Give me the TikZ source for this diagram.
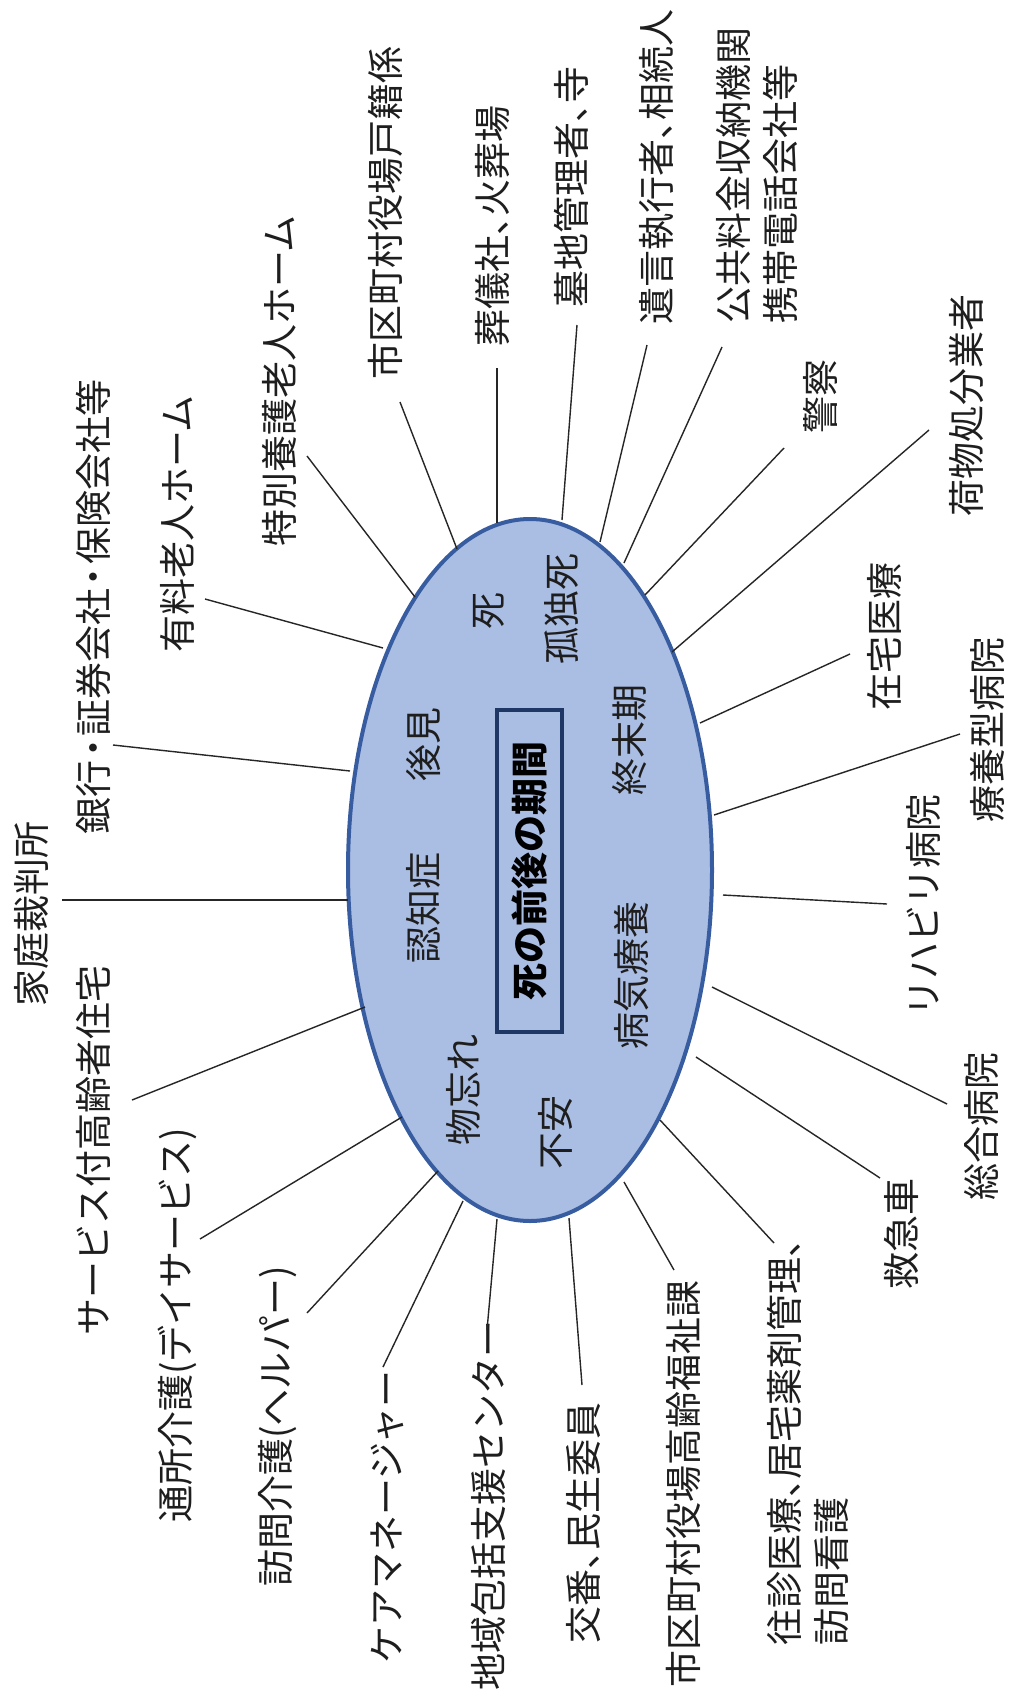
\documentclass[tikz,border=0pt]{standalone}
\usepackage{fontspec}
\newfontfamily\jp{Noto Sans CJK JP}
\usetikzlibrary{shapes.geometric}
\definecolor{efill}{RGB}{170,189,227}
\definecolor{edraw}{RGB}{55,93,160}
\definecolor{bdraw}{RGB}{30,55,100}
\definecolor{txt}{RGB}{30,30,30}
\newcommand\hc{\makebox[18.5pt][l]{、}}
\newcommand\md{\makebox[24pt][c]{・}}
\begin{document}
\begin{tikzpicture}[x=1pt,y=-1pt,
  lbl/.style={rotate=90, inner sep=0pt, font=\jp\fontsize{37}{47}\selectfont, text=txt, align=left},
  conn/.style={line width=1.4pt, draw=black!85},
  ell/.style={ellipse, draw=edraw, fill=efill, line width=4pt, minimum width=364pt, minimum height=702pt, inner sep=0pt},
  titlebox/.style={rotate=90, draw=bdraw, line width=3.5pt, fill=efill, minimum width=322pt, minimum height=65pt, inner sep=0pt, font=\jp\bfseries\fontsize{37}{44}\selectfont, text=black}
 ]
\fill[white] (0,0) rectangle (1014,1697);
\useasboundingbox (0,0) rectangle (1014,1697);

% central ellipse and title
\node[ell] (E) at (530,870) {};
\node[titlebox] (T) at (529.5,871) {死の前後の期間};

% words inside the ellipse
\node[lbl] (i1) at (423,744) {後見};
\node[lbl] (i2) at (423,908) {認知症};
\node[lbl] (i3) at (489,611) {死};
\node[lbl] (i4) at (562,609) {孤独死};
\node[lbl] (i5) at (630,740) {終末期};
\node[lbl] (i6) at (632,975) {病気療養};
\node[lbl] (i7) at (463,1090) {物忘れ};
\node[lbl] (i8) at (555,1132) {不安};

% outer labels
\node[lbl] (L1) at (32,914) {家庭裁判所};
\node[lbl] (L2) at (93,607) {銀行\md 証券会社\md 保険会社等};
\node[lbl] (L3) at (177,524) {有料老人ホーム};
\node[lbl] (L4) at (279,381) {特別養護老人ホーム};
\node[lbl] (L5) at (385,213) {市区町村役場戸籍係};
\node[lbl] (L6) at (492,226) {葬儀社\hc 火葬場};
\node[lbl] (L7) at (571,187) {墓地管理者\hc 寺};
\node[lbl] (L8) at (657,167) {遺言執行者\hc 相続人};
\node[lbl] (L9) at (756.5,175) {公共料金収納機関\\携帯電話会社等};
\node[lbl] (L10) at (820,396) {警察};
\node[lbl] (L11) at (967,405) {荷物処分業者};
\node[lbl] (L12) at (884,636) {在宅医療};
\node[lbl] (L13) at (987,730) {療養型病院};
\node[lbl] (L14) at (923,905) {リハビリ病院};
\node[lbl] (L15) at (981,1126) {総合病院};
\node[lbl] (L16) at (901,1234) {救急車};
\node[lbl] (L17) at (807.5,1442) {往診医療\hc 居宅薬剤管理\hc\\訪問看護};
\node[lbl] (L18) at (683,1484) {市区町村役場高齢福祉課};
\node[lbl] (L19) at (583,1523) {交番\hc 民生委員};
\node[lbl] (L20) at (488,1505) {地域包括支援センター};
\node[lbl] (L21) at (387,1517) {ケアマネージャー};
\node[lbl] (L22) at (278,1426) {訪問介護(ヘルパー)};
\node[lbl] (L23) at (177,1325) {通所介護(デイサービス)};
\node[lbl] (L24) at (93,1150) {サービス付高齢者住宅};

% connector end points
\coordinate (a1) at (62,900);    \coordinate (b1) at (348,900);
\coordinate (a2) at (113,745);   \coordinate (b2) at (350,771);
\coordinate (a3) at (205,599);   \coordinate (b3) at (383,648);
\coordinate (a4) at (307,456);   \coordinate (b4) at (415,597);
\coordinate (a5) at (400,402);   \coordinate (b5) at (457,549);
\coordinate (a6) at (497,368);   \coordinate (b6) at (497,523);
\coordinate (a7) at (577,325);   \coordinate (b7) at (562,520);
\coordinate (a8) at (647,345);   \coordinate (b8) at (600,542);
\coordinate (a9) at (722,347);   \coordinate (b9) at (624,563);
\coordinate (a10) at (784,448);  \coordinate (b10) at (645,595);
\coordinate (a11) at (929,430);  \coordinate (b11) at (672,652);
\coordinate (a12) at (850,654);  \coordinate (b12) at (700,723);
\coordinate (a13) at (960,734);  \coordinate (b13) at (714,815);
\coordinate (a14) at (887,904);  \coordinate (b14) at (723,895);
\coordinate (a15) at (947,1104); \coordinate (b15) at (712,987);
\coordinate (a16) at (880,1178); \coordinate (b16) at (696,1057);
\coordinate (a17) at (774,1243); \coordinate (b17) at (660,1120);
\coordinate (a18) at (674,1270); \coordinate (b18) at (624,1182);
\coordinate (a19) at (582,1385); \coordinate (b19) at (569,1218);
\coordinate (a20) at (487,1330); \coordinate (b20) at (497,1219);
\coordinate (a21) at (383,1367); \coordinate (b21) at (463,1201);
\coordinate (a22) at (307,1313); \coordinate (b22) at (438,1171);
\coordinate (a23) at (200,1239); \coordinate (b23) at (402,1117);
\coordinate (a24) at (132,1100); \coordinate (b24) at (365,1007);

\foreach \k in {1,...,24} {\draw[conn] (a\k) -- (b\k);}
\end{tikzpicture}
\end{document}
